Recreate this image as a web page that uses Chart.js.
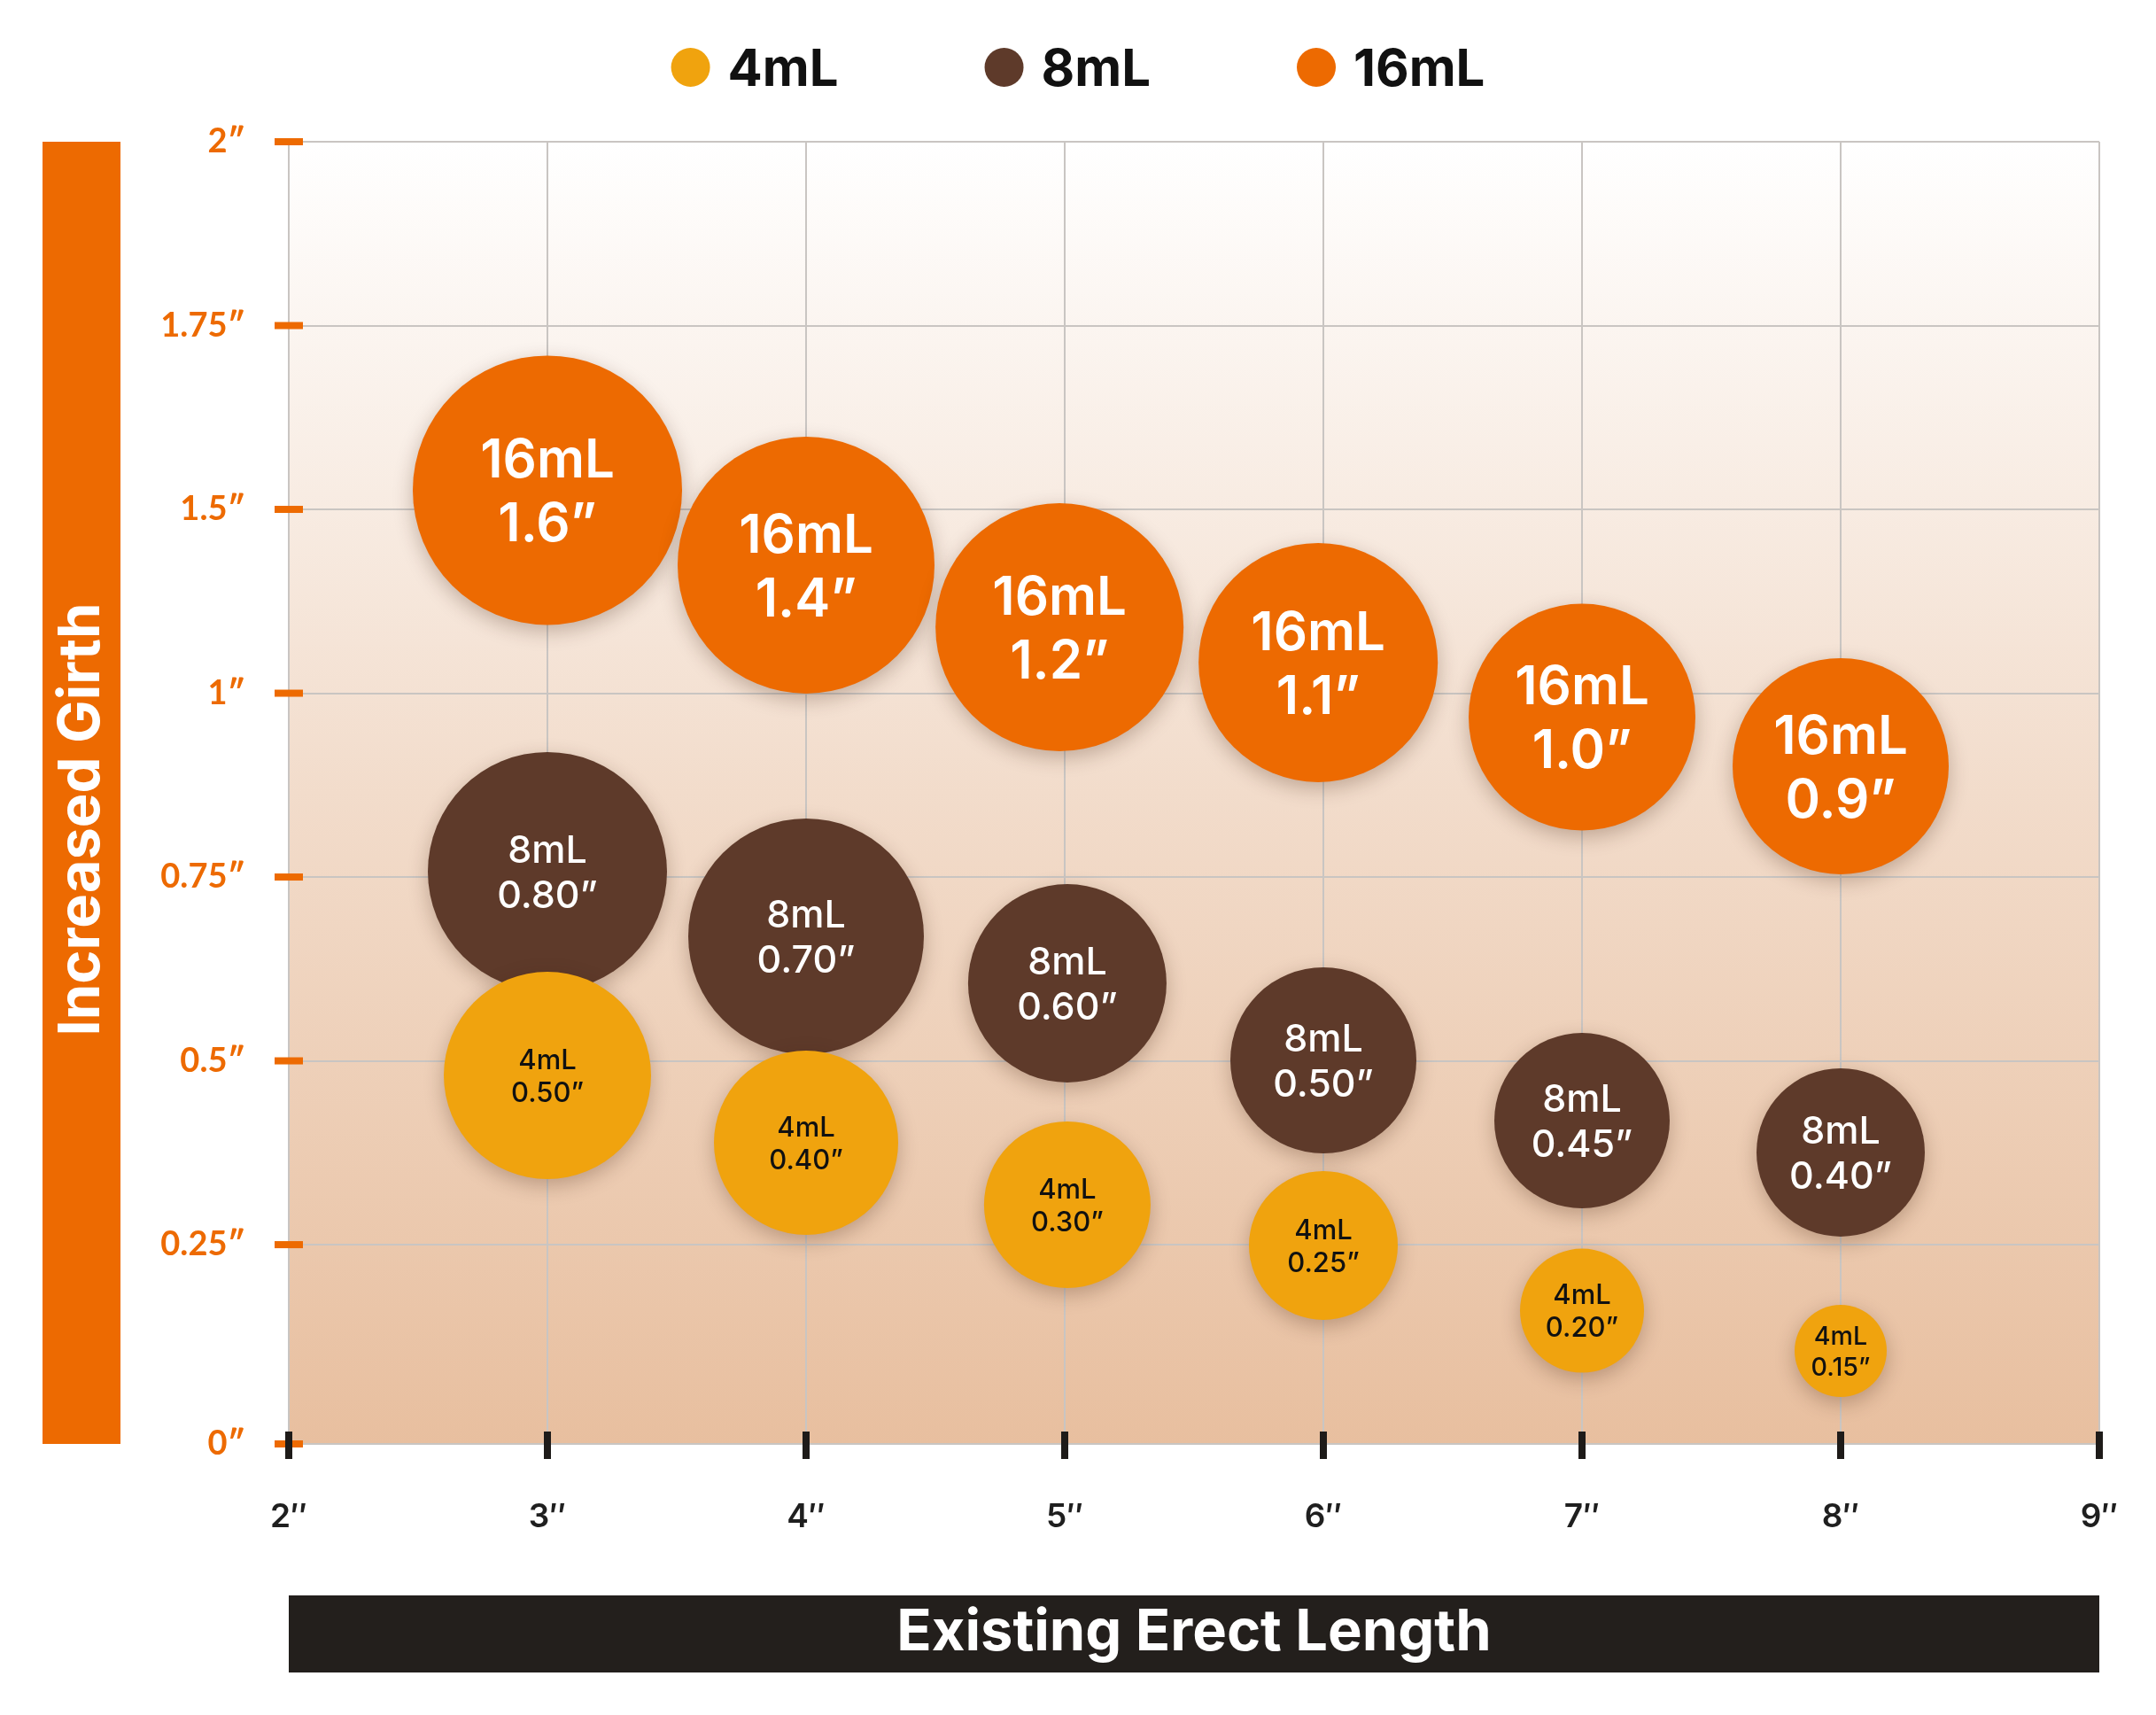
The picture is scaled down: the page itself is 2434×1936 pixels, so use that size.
<!DOCTYPE html>
<html>
<head>
<meta charset="utf-8">
<title>Increased Girth vs Existing Erect Length</title>
<script src="https://cdn.jsdelivr.net/npm/chart.js@4.4.1/dist/chart.umd.min.js"></script>
<style>
  html, body { margin: 0; padding: 0; background: #ffffff; }
  canvas { display: block; }
</style>
</head>
<body>
<canvas id="chart-girth" width="2434" height="1936"></canvas>
<script>
var volumeLabels = ["4mL", "8mL", "16mL"];
var volumeColors = ["#F0A30E", "#5E3A2A", "#ED6A01"];

// x = existing length, y = bubble height on the girth axis (in grid units), r = bubble size
var lengths4 = [3, 4, 5.01, 6, 7, 8];
var girthPos4 = [2.005, 1.639, 1.301, 1.08, 0.725, 0.506];
var sizes4 = [117, 104, 94, 84, 70, 52];
var girthText4 = ["0.50”", "0.40”", "0.30”", "0.25”", "0.20”", "0.15”"];

var lengths8 = [3, 4, 5.01, 6, 7, 8];
var girthPos8 = [3.113, 2.761, 2.506, 2.087, 1.759, 1.586];
var sizes8 = [135, 133, 112, 105, 99, 95];
var girthText8 = ["0.80”", "0.70”", "0.60”", "0.50”", "0.45”", "0.40”"];

var lengths16 = [3, 4, 4.98, 5.98, 7, 8];
var girthPos16 = [5.188, 4.781, 4.443, 4.251, 3.954, 3.687];
var sizes16 = [152, 145, 140, 135, 128, 122];
var girthText16 = ["1.6”", "1.4”", "1.2”", "1.1”", "1.0”", "0.9”"];

var xTickLabels = ["2″", "3″", "4″", "5″", "6″", "7″", "8″", "9″"];
var yTickLabels = ["0″", "0.25″", "0.5″", "0.75″", "1″", "1.5″", "1.75″", "2″"];

var ORANGE = "#ED6A01";
var DARK = "#231F1C";
var GRID = "#C9C5C2";
// the first girth step is drawn a bit taller than the others in the original
var FIRST_STEP_EXTRA = 0.084;

function buildPoints(xs, ys, rs) {
  var points = [];
  xs.forEach(function (x, i) {
    points.push({ x: x, y: ys[i], r: rs[i] });
  });
  return points;
}

var bubbleTexts = [girthText4, girthText8, girthText16];
var bubbleFonts = [
  { weight: 500, size: 31, color: "#111111" },
  { weight: 500, size: 43, color: "#FFFFFF" },
  { weight: 600, size: 60, color: "#FFFFFF" }
];

var chartDecor = {
  id: "chartDecor",
  beforeDraw: function (chart) {
    var ctx = chart.ctx, a = chart.chartArea;
    var grad = ctx.createLinearGradient(0, a.top, 0, a.bottom);
    grad.addColorStop(0, "#FFFFFF");
    grad.addColorStop(0.5, "#F2DCCB");
    grad.addColorStop(1, "#E8BF9F");
    ctx.save();
    ctx.fillStyle = grad;
    ctx.fillRect(a.left, a.top, a.right - a.left, a.bottom - a.top);
    ctx.restore();
  },
  beforeDatasetDraw: function (chart) {
    var ctx = chart.ctx;
    ctx.save();
    ctx.shadowColor = "rgba(60, 30, 10, 0.28)";
    ctx.shadowBlur = 22;
    ctx.shadowOffsetY = 7;
  },
  afterDatasetDraw: function (chart) {
    chart.ctx.restore();
  },
  afterDatasetsDraw: function (chart) {
    var ctx = chart.ctx;
    ctx.save();
    ctx.textAlign = "center";
    ctx.textBaseline = "alphabetic";
    // back to front like the bubbles
    for (var d = chart.data.datasets.length - 1; d >= 0; d--) {
      var meta = chart.getDatasetMeta(d);
      var f = bubbleFonts[d];
      meta.data.forEach(function (el, i) {
        var r = el.options.radius;
        var size = Math.min(f.size, r * 0.55);
        var lh = size * 1.2;
        var cap = size * 0.727;
        ctx.font = f.weight + " " + size + "px Inter";
        ctx.fillStyle = f.color;
        ctx.fillText(chart.data.datasets[d].label, el.x, el.y - lh / 2 + cap / 2);
        ctx.fillText(bubbleTexts[d][i], el.x, el.y + lh / 2 + cap / 2);
      });
    }
    ctx.restore();
  },
  afterDraw: function (chart) {
    var ctx = chart.ctx, a = chart.chartArea;
    var xScale = chart.scales.x, yScale = chart.scales.y;
    ctx.save();

    // orange ticks across the girth axis
    ctx.fillStyle = ORANGE;
    yScale.ticks.forEach(function (t, i) {
      var py = yScale.getPixelForTick(i);
      ctx.fillRect(a.left - 16, py - 4, 32, 8);
    });
    // dark ticks across the length axis
    ctx.fillStyle = "#1E1B19";
    xScale.ticks.forEach(function (t, i) {
      var px = xScale.getPixelForTick(i);
      ctx.fillRect(px - 4, a.bottom - 14, 8, 31);
    });

    // y title box
    ctx.fillStyle = ORANGE;
    ctx.fillRect(a.left - 278, a.top, 88, a.bottom - a.top);
    ctx.translate(a.left - 234, (a.top + a.bottom) / 2 + 30);
    ctx.rotate(-Math.PI / 2);
    ctx.fillStyle = "#FFFFFF";
    ctx.font = "700 65px Inter";
    ctx.textAlign = "center";
    ctx.textBaseline = "middle";
    ctx.fillText("Increased Girth", 0, 0);
    ctx.setTransform(1, 0, 0, 1, 0, 0);

    // x title box
    ctx.fillStyle = DARK;
    ctx.fillRect(a.left, a.bottom + 171, a.right - a.left, 87);
    ctx.fillStyle = "#FFFFFF";
    ctx.font = "700 65px Inter";
    ctx.textAlign = "center";
    ctx.textBaseline = "alphabetic";
    ctx.fillText("Existing Erect Length", (a.left + a.right) / 2, a.bottom + 209 + 24);

    // legend on top
    ctx.font = "700 58px Inter";
    ctx.textAlign = "left";
    var r = 22, gapText = 20, gapItem = 165;
    var items = chart.data.datasets.map(function (ds) {
      return { label: ds.label, color: ds.backgroundColor, w: ctx.measureText(ds.label).width };
    });
    var total = 0;
    items.forEach(function (it, i) {
      total += 2 * r + gapText + it.w + (i > 0 ? gapItem : 0);
    });
    var lx = chart.width / 2 - total / 2;
    var ly = 76;
    items.forEach(function (it) {
      ctx.fillStyle = it.color;
      ctx.beginPath();
      ctx.arc(lx + r, ly, r, 0, Math.PI * 2);
      ctx.fill();
      ctx.fillStyle = "#111111";
      ctx.fillText(it.label, lx + 2 * r + gapText, ly + 21);
      lx += 2 * r + gapText + it.w + gapItem;
    });
    ctx.restore();
  }
};

function createGirthChart(id) {
  var pointSets = [
    buildPoints(lengths4, girthPos4, sizes4),
    buildPoints(lengths8, girthPos8, sizes8),
    buildPoints(lengths16, girthPos16, sizes16)
  ];
  var datasets = volumeLabels.map(function (label, i) {
    return {
      label: label,
      data: pointSets[i],
      backgroundColor: volumeColors[i],
      borderWidth: 0,
      hoverBorderWidth: 0,
      hoverRadius: 0
    };
  });

  return new Chart(id, {
    type: "bubble",
    data: { datasets: datasets },
    options: {
      responsive: false,
      animation: false,
      devicePixelRatio: 1,
      events: [],
      layout: { autoPadding: false, padding: { top: 160, right: 64, left: 176, bottom: 206 } },
      plugins: {
        legend: { display: false },
        tooltip: { enabled: false }
      },
      scales: {
        x: {
          type: "linear",
          min: 2,
          max: 9,
          afterFit: function (scale) { scale.height = 100; },
          // invisible tick marks push the labels down without widening the side padding
          grid: { color: GRID, lineWidth: 2, drawTicks: true, tickLength: 61, tickColor: "rgba(0,0,0,0)" },
          border: { display: true, color: GRID, width: 2 },
          ticks: {
            stepSize: 1,
            autoSkip: false,
            maxRotation: 0,
            padding: 0,
            color: "#1F1F1F",
            font: { family: "Inter", size: 37, weight: 600 },
            callback: function (v) { return xTickLabels[v - 2]; }
          }
        },
        y: {
          type: "linear",
          min: 0,
          max: yTickLabels.length - 1 + FIRST_STEP_EXTRA,
          afterFit: function (scale) { scale.width = 150; },
          afterBuildTicks: function (scale) {
            scale.ticks = yTickLabels.map(function (lbl, i) {
              return { value: i === 0 ? 0 : i + FIRST_STEP_EXTRA };
            });
          },
          grid: { color: GRID, lineWidth: 2, drawTicks: false },
          border: { display: true, color: GRID, width: 2 },
          ticks: {
            autoSkip: false,
            padding: 49,
            color: ORANGE,
            font: { family: "Lato", size: 38, weight: 700 },
            callback: function (v, i) { return yTickLabels[i]; }
          }
        }
      }
    },
    plugins: [chartDecor]
  });
}

createGirthChart("chart-girth");
</script>
</body>
</html>
